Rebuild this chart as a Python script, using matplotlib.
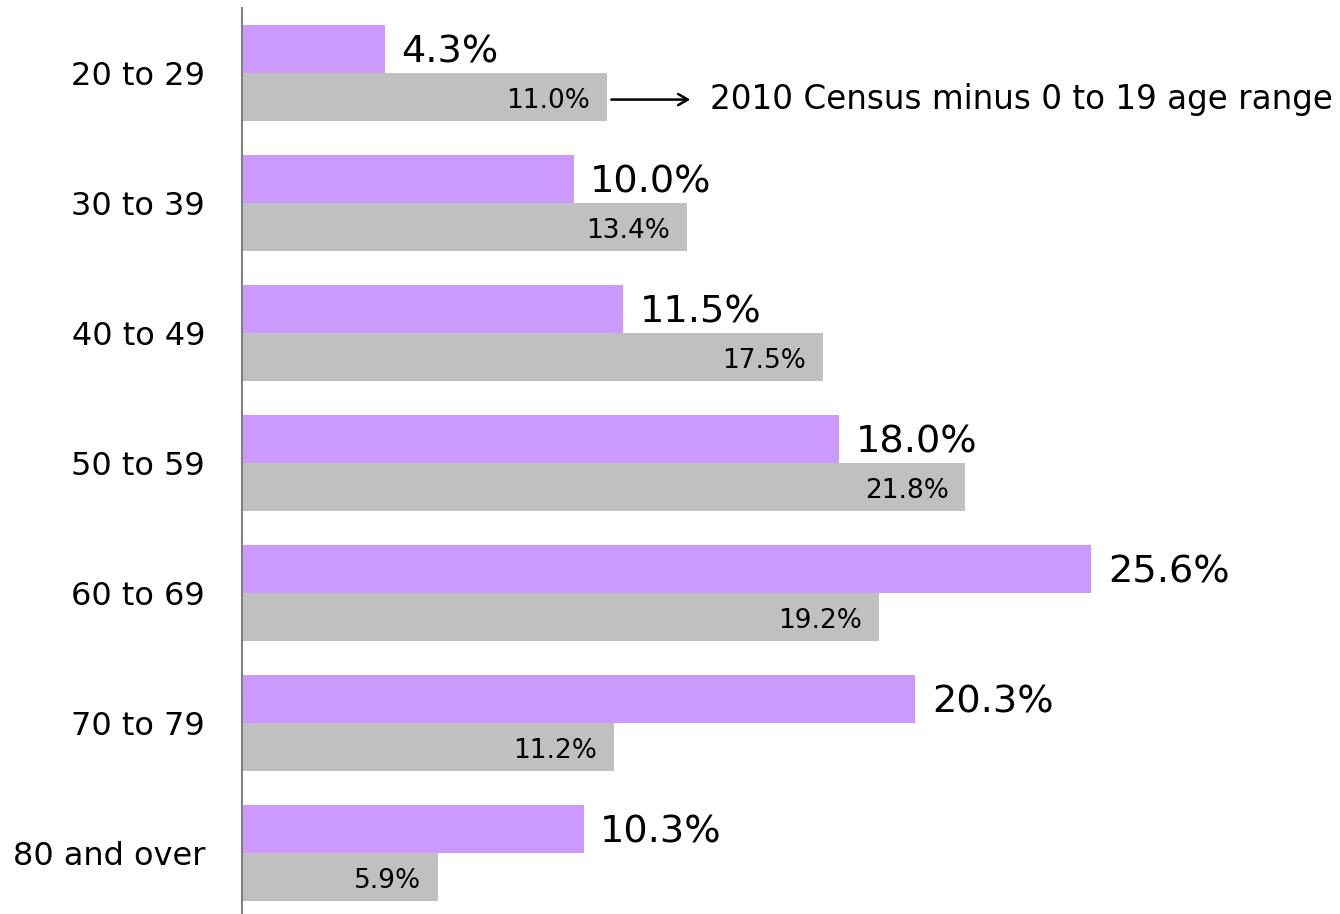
import matplotlib
matplotlib.use("Agg")
import matplotlib.pyplot as plt
import numpy as np

plt.rcParams["font.family"] = ["DejaVu Sans"]

# age groups and shares (%)
age_groups = ["20 to 29", "30 to 39", "40 to 49", "50 to 59", "60 to 69", "70 to 79", "80 and over"]
survey_pct = [4.3, 10.0, 11.5, 18.0, 25.6, 20.3, 10.3]
census_pct = [11.0, 13.4, 17.5, 21.8, 19.2, 11.2, 5.9]
census_note = "2010 Census minus 0 to 19 age range"

purple = "#CC99FF"
grey = "#C0C0C0"

fig = plt.figure(figsize=(13.4, 9.14), dpi=100)
ax = fig.add_axes([242 / 1340, 0, 1098 / 1340, 906 / 914])

y = np.arange(len(age_groups))
h = 0.369
ax.barh(y - h / 2, survey_pct, height=h, color=purple)
ax.barh(y + h / 2, census_pct, height=h, color=grey)

for i in range(len(age_groups)):
    ax.text(survey_pct[i] + 0.5, y[i] - h / 2 + 0.03, f"{survey_pct[i]:.1f}%",
            fontsize=27.5, va="center", ha="left", color="black")
    ax.text(census_pct[i] - 0.5, y[i] + h / 2 + 0.03, f"{census_pct[i]:.1f}%",
            fontsize=19, va="center", ha="right", color="black")

# arrow pointing to the census note
ax.annotate("", xy=(13.6, y[0] + h / 2 + 0.02), xytext=(11.05, y[0] + h / 2 + 0.02),
            arrowprops=dict(arrowstyle="->,head_length=0.7,head_width=0.4", lw=1.8, color="black"))
ax.text(14.1, y[0] + h / 2 + 0.02, census_note, fontsize=23.5, va="center", ha="left")

ax.set_xlim(0, 33.1)
ax.set_ylim(6.47, -0.5)
ax.set_yticks(y)
ax.set_yticklabels(age_groups, fontsize=23)
ax.tick_params(axis="y", length=0, pad=26.5)
ax.set_xticks([])
for s in ["top", "right", "bottom"]:
    ax.spines[s].set_visible(False)
ax.spines["left"].set_color("#808080")
ax.spines["left"].set_linewidth(1.5)

fig.savefig("out.png", dpi=100)
